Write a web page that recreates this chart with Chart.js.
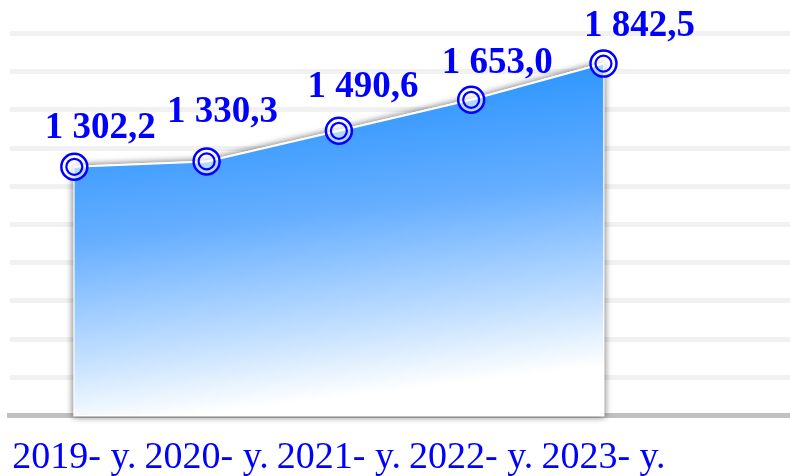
<!DOCTYPE html>
<html>
<head>
<meta charset="utf-8">
<script src="https://cdn.jsdelivr.net/npm/chart.js@4.4.1/dist/chart.umd.min.js"></script>
<style>
  html, body { margin: 0; padding: 0; background: #fff; }
  #wrap { width: 790px; height: 476px; }
</style>
</head>
<body>
<div id="wrap"><canvas id="chart"></canvas></div>
<script>
const years  = ["2019- y.", "2020- y.", "2021- y.", "2022- y.", "2023- y."];
const values = [1302.2, 1330.3, 1490.6, 1653.0, 1842.5];
const yMax   = 2000;
const yStep  = 200;

const BLUE  = "#0000ff";
const SERIF = '"Liberation Serif", "Times New Roman", serif';

// décalage des étiquettes par rapport au point (placées à la main dans l'original)
const labelNudge = [[26, -29], [16, -39], [24, -34], [26, -27], [36, -28]];

const fmtNum = v => {
  const [i, d] = v.toFixed(1).split(".");
  return i.replace(/\B(?=(\d{3})+(?!\d))/g, " ") + "," + d;
};

const points = values.map((v, i) => ({ x: i, y: v }));

function areaGradient(ctx) {
  const { chart } = ctx;
  const area = chart.chartArea;
  if (!area) return "#1e8fff";
  const x0 = area.left + area.width * 0.4;
  const g = chart.ctx.createLinearGradient(x0, 60, x0 + 40, 395);
  g.addColorStop(0,    "#1e8fff");
  g.addColorStop(0.45, "#66aeff");
  g.addColorStop(0.8,  "#c4e0ff");
  g.addColorStop(1,    "#ffffff");
  return g;
}

// ombre portée : on remplit la même surface avec une ombre, avant le dessin du dataset
const areaShadow = {
  id: "areaShadow",
  beforeDatasetsDraw(chart) {
    const ctx = chart.ctx;
    const pts = chart.getDatasetMeta(0).data;
    const base = chart.scales.y.getPixelForValue(0);
    ctx.save();
    ctx.shadowColor = "rgba(0,0,0,0.55)";
    ctx.shadowBlur = 7;
    ctx.fillStyle = "#ffffff";
    ctx.strokeStyle = "#ffffff";
    ctx.lineWidth = 2;
    ctx.beginPath();
    pts.forEach((p, i) => (i ? ctx.lineTo(p.x, p.y) : ctx.moveTo(p.x, p.y)));
    ctx.lineTo(pts[pts.length - 1].x, base);
    ctx.lineTo(pts[0].x, base);
    ctx.closePath();
    ctx.fill();
    ctx.stroke();
    ctx.restore();
  },
};

const valueLabels = {
  id: "valueLabels",
  afterDatasetsDraw(chart) {
    const ctx = chart.ctx;
    const meta = chart.getDatasetMeta(0);
    ctx.save();
    ctx.font = `bold 37px ${SERIF}`;
    ctx.fillStyle = BLUE;
    ctx.textAlign = "center";
    ctx.textBaseline = "alphabetic";
    meta.data.forEach((p, i) => {
      const [dx, dy] = labelNudge[i];
      ctx.fillText(fmtNum(values[i]), p.x + dx, p.y + dy);
    });
    ctx.restore();
  },
};

new Chart(document.getElementById("chart"), {
  type: "line",
  data: {
    datasets: [
      {
        data: points,
        order: 10,
        fill: "origin",
        backgroundColor: areaGradient,
        borderColor: "#ffffff",
        borderWidth: 2,
        pointRadius: 0,
        tension: 0,
      },
      {
        data: points,
        order: 1,
        showLine: false,
        pointRadius: 13,
        pointBorderWidth: 2.5,
        pointBorderColor: BLUE,
        pointBackgroundColor: "rgba(255,255,255,0.6)",
      },
      {
        data: points,
        order: 0,
        showLine: false,
        pointRadius: 8,
        pointBorderWidth: 2.2,
        pointBorderColor: BLUE,
        pointBackgroundColor: "rgba(0,0,0,0)",
      },
    ],
  },
  options: {
    responsive: true,
    maintainAspectRatio: false,
    animation: false,
    layout: { autoPadding: false, padding: { left: 9.5, top: 33.5, right: 0, bottom: 0 } },
    plugins: {
      legend: { display: false },
      tooltip: { enabled: false },
    },
    scales: {
      x: {
        type: "linear",
        min: -0.49,
        max: 5.41,
        z: 1,
        afterBuildTicks: scale => { scale.ticks = years.map((_, i) => ({ value: i })); },
        afterFit: scale => {
          scale.height = 60.5;
          scale.paddingLeft = 0;
          scale.paddingRight = 0;
        },
        grid: { display: false, drawTicks: false },
        border: { display: true, color: "#c0c0c0", width: 5 },
        ticks: {
          autoSkip: false,
          maxRotation: 0,
          padding: 20,
          color: BLUE,
          font: { family: SERIF, size: 38 },
          callback: v => years[v],
        },
      },
      y: {
        min: 0,
        max: yMax,
        afterFit: scale => { scale.width = 0; },
        ticks: { display: false, stepSize: yStep },
        grid: {
          drawTicks: false,
          lineWidth: 5,
          color: c => (c.tick && c.tick.value === 0 ? "rgba(0,0,0,0)" : "#f1f1f1"),
        },
        border: { display: false },
      },
    },
  },
  plugins: [areaShadow, valueLabels],
});
</script>
</body>
</html>
